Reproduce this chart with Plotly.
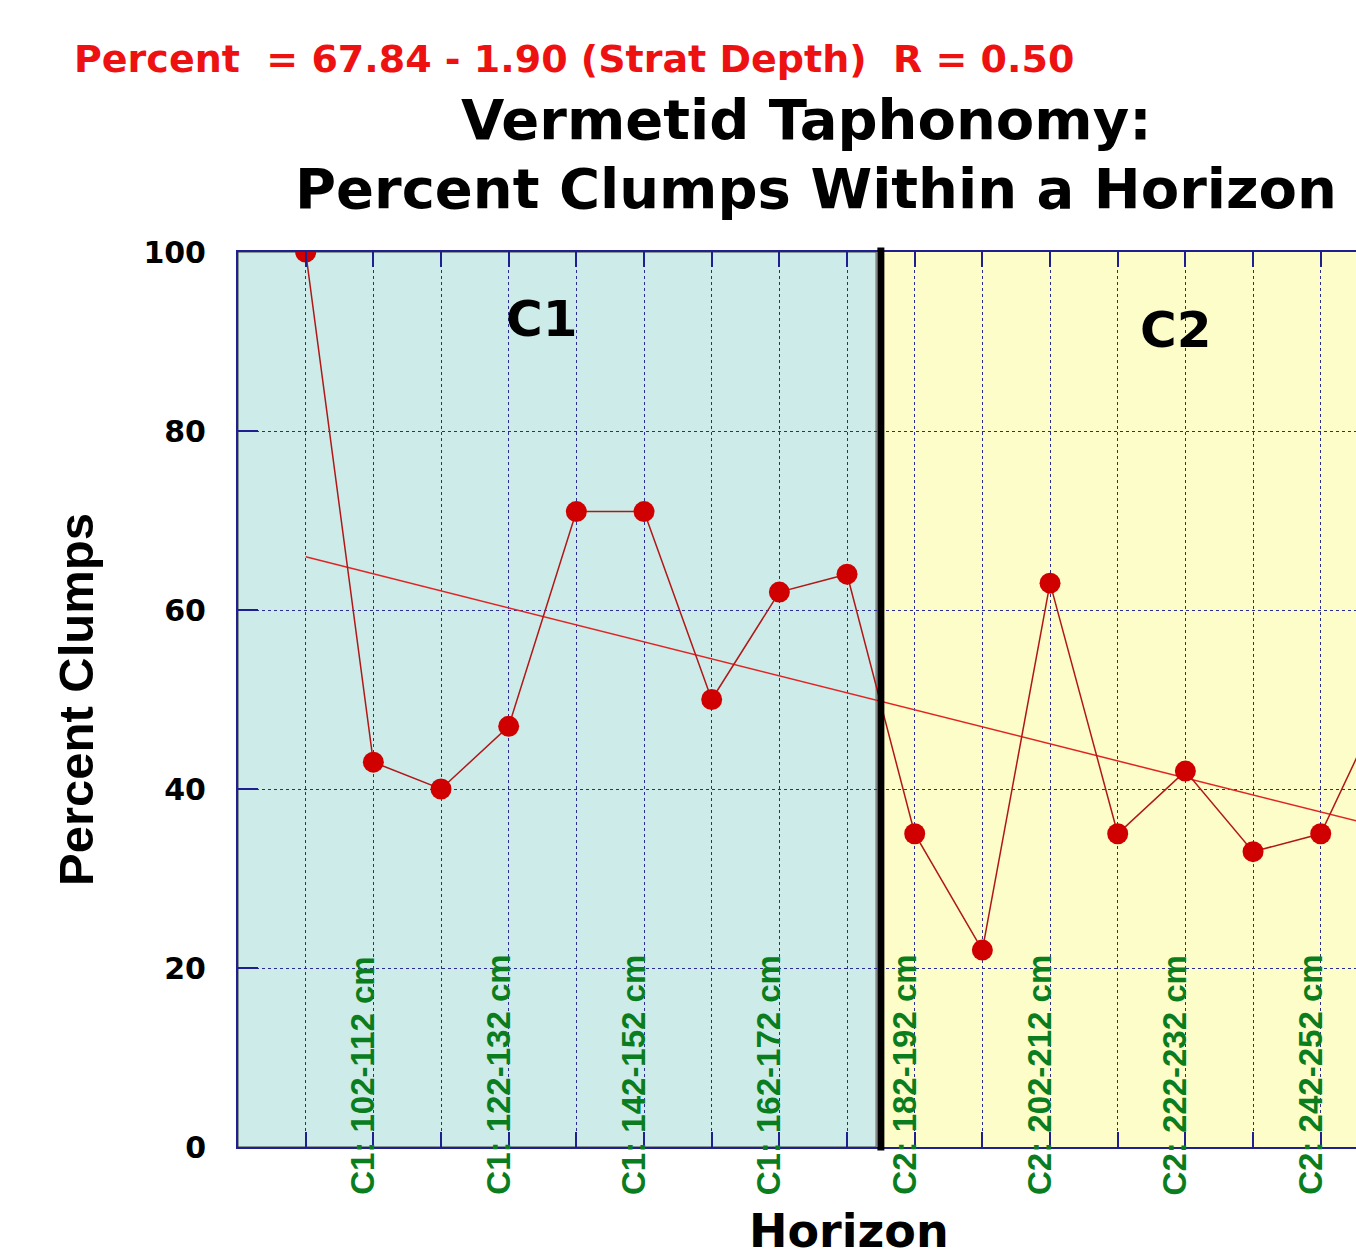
import plotly.graph_objects as go

# ---------------- data ----------------
horizon_index = list(range(1, 18))
horizon_labels = [
    "C1: 92-102 cm", "C1: 102-112 cm", "C1: 112-122 cm", "C1: 122-132 cm",
    "C1: 132-142 cm", "C1: 142-152 cm", "C1: 152-162 cm", "C1: 162-172 cm",
    "C1: 172-182 cm", "C2: 182-192 cm", "C2: 192-202 cm", "C2: 202-212 cm",
    "C2: 212-222 cm", "C2: 222-232 cm", "C2: 232-242 cm", "C2: 242-252 cm",
    "C2: 252-262 cm",
]
percent_clumps = [100, 43, 40, 47, 71, 71, 50, 62, 64, 35, 22, 63, 35, 42, 33, 35, 51]
fit_intercept = 67.84
fit_slope = -1.90
fit_r = 0.50
y_ticks = [0, 20, 40, 60, 80, 100]
zone_names = ["C1", "C2"]
zone_boundary = 9.5

# ---------------- styling ----------------
NAVY = "#1f1f8f"
GRID = "#2b2b90"
TITLE_FONT = "DejaVu Sans"
ROT_FONT = "Liberation Sans, Arial"
FIG_W = 1356
FIG_H = 1257
PLOT_L = 238
PLOT_T = 252
PLOT_B = 1147
PLOT_W = FIG_W - PLOT_L
PLOT_H = PLOT_B - PLOT_T
STEP = 67.67          # px per horizon step
X_MAX = PLOT_W / STEP


def px_x(px):
    return (px - PLOT_L) / PLOT_W


def px_y(py):
    return (PLOT_B - py) / PLOT_H


fit_x = [horizon_index[0], horizon_index[-1]]
fit_y = [fit_intercept + fit_slope * v for v in fit_x]

fig = go.Figure()

fig.add_trace(go.Scatter(
    x=fit_x, y=fit_y, mode="lines",
    line=dict(color="#e02424", width=1.5),
    hoverinfo="skip", showlegend=False,
))
fig.add_trace(go.Scatter(
    x=horizon_index, y=percent_clumps, mode="lines+markers",
    line=dict(color="#b01818", width=1.5),
    marker=dict(color="#d00000", size=21, line=dict(width=0)),
    showlegend=False,
))

shapes = [
    dict(type="rect", xref="x", yref="y", x0=0, x1=zone_boundary - 0.07, y0=0, y1=100,
         fillcolor="#cdece9", line=dict(color="#404040", width=1), layer="below"),
    dict(type="rect", xref="x", yref="y", x0=zone_boundary, x1=X_MAX + 1, y0=0, y1=100,
         fillcolor="#fdfdc9", line=dict(width=0), layer="below"),
    dict(type="line", xref="x", yref="paper", x0=zone_boundary, x1=zone_boundary,
         y0=-0.004, y1=1.005, line=dict(color="black", width=7), layer="above"),
]

annotations = []
eq_text = (f"Percent \u00a0= {fit_intercept:.2f} - {abs(fit_slope):.2f} (Strat Depth) "
           f"\u00a0R = {fit_r:.2f}")
annotations.append(dict(
    text=eq_text, xref="paper", yref="paper",
    x=px_x(72), y=px_y(58.5), xanchor="left", yanchor="middle",
    showarrow=False, font=dict(family=TITLE_FONT, size=38, color="#ee1111", weight="bold"),
))
annotations.append(dict(
    text="Vermetid Taphonomy:", xref="paper", yref="paper",
    x=px_x(806), y=px_y(120), xanchor="center", yanchor="middle",
    showarrow=False, font=dict(family=TITLE_FONT, size=56, color="black", weight="bold"),
))
annotations.append(dict(
    text="Percent Clumps Within a Horizon", xref="paper", yref="paper",
    x=px_x(816), y=px_y(189), xanchor="center", yanchor="middle",
    showarrow=False, font=dict(family=TITLE_FONT, size=56, color="black", weight="bold"),
))
annotations.append(dict(text=zone_names[0], xref="x", yref="y", x=4.49, y=92.5,
                        showarrow=False, font=dict(family=TITLE_FONT, size=50, color="black", weight="bold")))
annotations.append(dict(text=zone_names[1], xref="x", yref="y", x=13.86, y=91.3,
                        showarrow=False, font=dict(family=TITLE_FONT, size=50, color="black", weight="bold")))
annotations.append(dict(
    text="Percent Clumps", xref="paper", yref="paper",
    x=px_x(76), y=px_y(700), xanchor="center", yanchor="middle",
    textangle=-90, showarrow=False,
    font=dict(family=ROT_FONT, size=49, color="black", weight="bold"),
))
annotations.append(dict(
    text="Horizon", xref="paper", yref="paper",
    x=px_x(849), y=px_y(1231), xanchor="center", yanchor="middle",
    showarrow=False, font=dict(family=TITLE_FONT, size=46, color="black", weight="bold"),
))
for idx, lab in zip(horizon_index, horizon_labels):
    if idx % 2 == 0 and idx <= 16:
        annotations.append(dict(
            text=lab, xref="x", yref="paper", x=idx, y=px_y(1197),
            xanchor="center", yanchor="bottom", xshift=-11,
            textangle=-90, showarrow=False,
            font=dict(family=ROT_FONT, size=33, color="#0a7d1e", weight="bold"),
        ))

fig.update_layout(
    width=FIG_W, height=FIG_H,
    margin=dict(l=PLOT_L, r=0, t=PLOT_T, b=FIG_H - PLOT_B, pad=0),
    paper_bgcolor="white", plot_bgcolor="white",
    shapes=shapes, annotations=annotations,
    showlegend=False,
)
fig.update_xaxes(
    range=[0, X_MAX], tickmode="array", tickvals=horizon_index,
    showticklabels=False, ticks="inside", ticklen=15, tickwidth=2, tickcolor=NAVY,
    showline=True, linecolor=NAVY, linewidth=2, mirror="ticks",
    showgrid=True, gridcolor=GRID, gridwidth=1, griddash="dot", zeroline=False,
)
fig.update_yaxes(
    range=[0, 100], tickmode="array", tickvals=y_ticks,
    ticks="inside", ticklen=20, tickwidth=2, tickcolor=NAVY,
    showline=True, linecolor=NAVY, linewidth=2, mirror=False,
    showgrid=True, gridcolor=GRID, gridwidth=1, griddash="dot", zeroline=False,
    ticklabelstandoff=24,
    tickfont=dict(family=TITLE_FONT, size=30, color="black", weight="bold"),
)

fig.write_html(
    "out.html",
    config={"displayModeBar": False},
    post_script="document.body.style.margin='0';document.body.style.overflow='hidden';",
)
